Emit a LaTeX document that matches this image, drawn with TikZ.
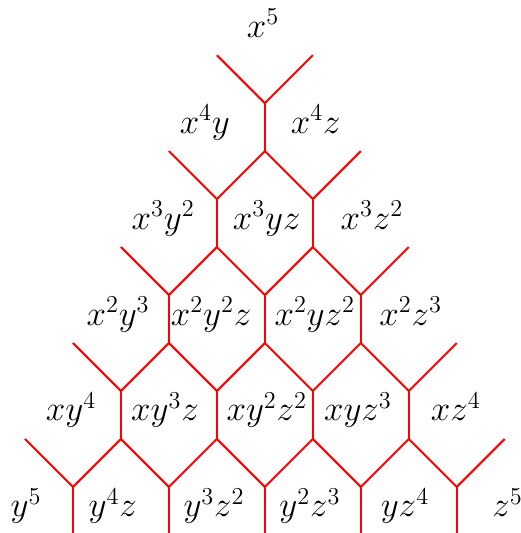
\documentclass[tikz,border=0pt]{standalone}
\begin{document}
\begin{tikzpicture}[
  curve/.style={draw=red, line width=1.2pt},
  mono/.style={font=\fontsize{20.5}{24}\selectfont, anchor=base, inner sep=0pt},
]
  \useasboundingbox (-5.52,-9.96) rectangle (5.33,1.15);

  % tropical curve: one Y per upward triangle
  \foreach \k in {0,...,4} {
    \foreach \i in {0,...,\k} {
      \pgfmathtruncatemacro{\c}{2*\i-\k}
      \coordinate (v-\k-\i) at (\c,-2*\k-1);
      \draw[curve] (v-\k-\i) ++(-1,1) -- (v-\k-\i) -- ++(1,1);
      \draw[curve] (v-\k-\i) -- ++(0,-1);
    }
  }

  % monomials
  \node[mono] (m500) at (-0.04,0.375)  {$x^5$};

  \node[mono] (m410) at (-1.25,-1.625) {$x^4y$};
  \node[mono] (m401) at (1.06,-1.625)  {$x^4z$};

  \node[mono] (m320) at (-2.12,-3.625) {$x^3y^2$};
  \node[mono] (m311) at (0.04,-3.625)  {$x^3yz$};
  \node[mono] (m302) at (2.23,-3.625)  {$x^3z^2$};

  \node[mono] (m230) at (-3.06,-5.625) {$x^2y^3$};
  \node[mono] (m221) at (-1.12,-5.625) {$x^2y^2z$};
  \node[mono] (m212) at (1.04,-5.625)  {$x^2yz^2$};
  \node[mono] (m203) at (3.04,-5.625)  {$x^2z^3$};

  \node[mono] (m140) at (-4.04,-7.625) {$xy^4$};
  \node[mono] (m131) at (-2.08,-7.625) {$xy^3z$};
  \node[mono] (m122) at (0.04,-7.625)  {$xy^2z^2$};
  \node[mono] (m113) at (1.94,-7.625)  {$xyz^3$};
  \node[mono] (m104) at (3.98,-7.625)  {$xz^4$};

  \node[mono] (m050) at (-4.98,-9.625) {$y^5$};
  \node[mono] (m041) at (-3.17,-9.625) {$y^4z$};
  \node[mono] (m032) at (-1.06,-9.625) {$y^3z^2$};
  \node[mono] (m023) at (0.94,-9.625)  {$y^2z^3$};
  \node[mono] (m014) at (2.92,-9.625)  {$yz^4$};
  \node[mono] (m005) at (5.06,-9.625)  {$z^5$};
\end{tikzpicture}
\end{document}
